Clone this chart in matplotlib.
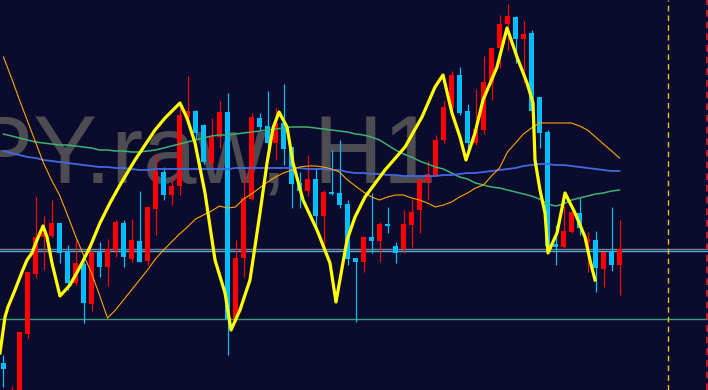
import matplotlib.pyplot as plt
import numpy as np

## Price data (H1 bars)
opens = [155.785, 155.610, 155.600, 155.930, 156.230, 156.415, 156.420, 156.485, 156.340, 156.185,
         156.280, 156.080, 156.340, 156.265, 156.345, 156.485, 156.305, 156.395, 156.295, 156.555,
         156.740, 156.625, 156.670, 157.015, 157.045, 156.975, 156.785, 156.915, 157.040, 156.005,
         156.310, 156.605, 157.010, 156.970, 156.885, 156.985, 156.865, 156.685, 156.645, 156.705,
         156.520, 156.640, 156.635, 156.580, 156.310, 156.290, 156.415, 156.395, 156.480, 156.370,
         156.355, 156.475, 156.550, 156.690, 156.725, 156.900, 157.060, 157.225, 157.045, 156.885,
         156.950, 157.185, 157.360, 157.480, 157.515, 157.405, 157.435, 157.115, 156.940, 156.380,
         156.365, 156.440, 156.535, 156.390, 156.400, 156.255, 156.345, 156.275]
highs = [155.825, 155.670, 155.940, 156.240, 156.615, 156.520, 156.600, 156.485, 156.375, 156.400,
         156.290, 156.350, 156.390, 156.405, 156.500, 156.500, 156.505, 156.645, 156.570, 156.830,
         156.765, 156.720, 157.085, 157.220, 157.050, 156.980, 157.010, 157.095, 157.135, 156.400,
         156.735, 157.035, 157.035, 157.145, 157.060, 157.180, 156.865, 156.740, 156.825, 156.755,
         156.650, 156.850, 156.900, 156.600, 156.310, 156.415, 156.635, 156.490, 156.565, 156.390,
         156.550, 156.605, 156.700, 156.795, 156.925, 157.095, 157.245, 157.265, 157.080, 157.155,
         157.320, 157.360, 157.525, 157.580, 157.520, 157.495, 157.450, 157.115, 156.950, 156.475,
         156.570, 156.575, 156.610, 156.440, 156.445, 156.340, 156.565, 156.500]
lows = [155.665, 155.575, 155.575, 155.910, 156.210, 156.250, 156.415, 156.285, 156.150, 156.175,
        155.985, 156.045, 156.215, 156.170, 156.315, 156.265, 156.290, 156.290, 156.275, 156.425,
        156.600, 156.575, 156.625, 157.000, 156.900, 156.780, 156.755, 156.860, 155.825, 155.990,
        156.215, 156.600, 156.950, 156.860, 156.800, 156.775, 156.560, 156.560, 156.620, 156.465,
        156.360, 156.625, 156.560, 156.275, 155.990, 156.240, 156.335, 156.290, 156.435, 156.285,
        156.335, 156.365, 156.435, 156.600, 156.720, 156.885, 157.050, 157.025, 156.840, 156.875,
        156.930, 157.100, 157.260, 157.350, 157.285, 157.185, 157.035, 156.860, 156.360, 156.275,
        156.360, 156.435, 156.425, 156.240, 156.140, 156.165, 156.245, 156.125]
closes = [155.755, 155.640, 155.940, 156.240, 156.415, 156.435, 156.485, 156.335, 156.185, 156.285,
          156.085, 156.340, 156.265, 156.355, 156.490, 156.315, 156.400, 156.290, 156.565, 156.745,
          156.625, 156.670, 157.025, 157.045, 156.935, 156.790, 156.915, 157.040, 156.005, 156.310,
          156.610, 157.015, 156.965, 156.885, 156.985, 156.855, 156.680, 156.645, 156.705, 156.520,
          156.640, 156.630, 156.575, 156.305, 156.290, 156.415, 156.395, 156.480, 156.470, 156.335,
          156.480, 156.540, 156.700, 156.730, 156.900, 157.065, 157.225, 157.035, 156.885, 156.955,
          157.190, 157.360, 157.480, 157.520, 157.405, 157.430, 157.045, 156.935, 156.370, 156.365,
          156.445, 156.540, 156.460, 156.405, 156.260, 156.340, 156.275, 156.355]

## Moving averages
ma_orange = [157.315, 157.21, 157.1, 156.995, 156.89, 156.785, 156.7, 156.625, 156.525, 156.42,
             156.325, 156.235, 156.125, 156.01, 156.05, 156.1, 156.15, 156.2, 156.25, 156.305,
             156.35, 156.39, 156.43, 156.465, 156.505, 156.525, 156.545, 156.57, 156.56, 156.565,
             156.605, 156.63, 156.66, 156.69, 156.715, 156.735, 156.75, 156.765, 156.77, 156.77,
             156.765, 156.755, 156.74, 156.7, 156.67, 156.64, 156.615, 156.6, 156.615, 156.625,
             156.625, 156.61, 156.6, 156.585, 156.565, 156.575, 156.59, 156.615, 156.635, 156.66,
             156.675, 156.72, 156.76, 156.84, 156.885, 156.93, 156.96, 156.985, 156.985, 156.985,
             156.985, 156.985, 156.97, 156.95, 156.915, 156.88, 156.845, 156.81]
ma_blue = [156.845, 156.835, 156.825, 156.815, 156.81, 156.8, 156.795, 156.79, 156.785, 156.78,
           156.775, 156.77, 156.765, 156.765, 156.76, 156.76, 156.755, 156.75, 156.75, 156.755,
           156.755, 156.755, 156.755, 156.755, 156.755, 156.755, 156.755, 156.755, 156.755, 156.76,
           156.76, 156.76, 156.76, 156.76, 156.76, 156.76, 156.76, 156.76, 156.755, 156.755,
           156.755, 156.75, 156.75, 156.74, 156.735, 156.735, 156.73, 156.73, 156.725, 156.725,
           156.72, 156.72, 156.72, 156.72, 156.72, 156.725, 156.725, 156.73, 156.735, 156.735,
           156.74, 156.745, 156.75, 156.755, 156.76, 156.77, 156.775, 156.78, 156.78, 156.775,
           156.775, 156.77, 156.765, 156.76, 156.755, 156.75, 156.745, 156.745]
ma_green = [156.93, 156.92, 156.91, 156.9, 156.89, 156.885, 156.88, 156.875, 156.875, 156.87,
            156.865, 156.86, 156.85, 156.85, 156.845, 156.845, 156.84, 156.84, 156.845, 156.85,
            156.86, 156.87, 156.88, 156.89, 156.9, 156.91, 156.92, 156.925, 156.925, 156.93,
            156.935, 156.94, 156.945, 156.95, 156.955, 156.96, 156.965, 156.965, 156.965, 156.96,
            156.955, 156.95, 156.945, 156.94, 156.93, 156.925, 156.915, 156.9, 156.875, 156.85,
            156.83, 156.815, 156.795, 156.78, 156.765, 156.755, 156.735, 156.715, 156.705, 156.685,
            156.675, 156.665, 156.66, 156.65, 156.64, 156.63, 156.62, 156.605, 156.58, 156.57,
            156.58, 156.6, 156.61, 156.62, 156.63, 156.635, 156.645, 156.65]

## Yellow swing line (bar index, price)
swing_x = [-0.44, 0.19, 0.56, 1.44, 2.31, 2.94, 3.56, 4.19, 4.94, 5.44, 6.06, 7.06, 8.31, 9.56,
           10.81, 12.06, 13.31, 14.56, 16.44, 18.94, 20.19, 22.06, 22.94, 23.94, 25.19, 26.44,
           27.69, 28.44, 29.56, 30.81, 32.06, 32.94, 33.69, 34.44, 35.44, 36.19, 37.44, 39.19,
           40.81, 41.56, 42.94, 43.94, 45.19, 47.69, 50.19, 52.31, 53.94, 54.94, 56.06, 57.06,
           57.81, 58.94, 59.94, 61.69, 62.94, 64.19, 65.44, 66.19, 66.44, 67.06, 67.69, 68.06,
           69.19, 70.19, 71.44, 72.69, 73.31, 73.94]
swing_y = [155.835, 156.015, 156.065, 156.15, 156.24, 156.3, 156.335, 156.4, 156.47, 156.415,
           156.285, 156.12, 156.175, 156.265, 156.365, 156.485, 156.585, 156.675, 156.8, 156.95,
           157.01, 157.085, 157.01, 156.885, 156.635, 156.3, 156.135, 155.95, 156.05, 156.2,
           156.535, 156.785, 156.96, 157.04, 156.965, 156.785, 156.6, 156.45, 156.285, 156.09,
           156.4, 156.515, 156.615, 156.75, 156.865, 157.015, 157.165, 157.225, 157.035, 156.915,
           156.8, 156.935, 157.1, 157.265, 157.46, 157.315, 157.185, 157.085, 156.8, 156.65,
           156.535, 156.335, 156.435, 156.635, 156.535, 156.415, 156.3, 156.2]

ask_price = 156.355
bid_price = 156.345
level_price = 156.005
vline_yellow = 83
vline_red = 87.95

bg = '#0b0b2e'
up_col = '#ff0000'
dn_col = '#00bfff'

fig = plt.figure(figsize=(7.08, 3.9), dpi=100)
ax = fig.add_axes([0, 0, 1, 1])
ax.set_facecolor(bg)

# watermark (symbol, timeframe), cut at the left like the terminal shows it
ax.text(0.617, 0.531, 'USDJPY.raw, H1', transform=ax.transAxes, ha='right', va='baseline',
        fontsize=69, family='Liberation Sans', color='#4c4c52', zorder=0)

# levels
ax.axhline(ask_price, color='#7f7f8a', lw=1, zorder=1)
ax.axhline(bid_price, color='#4fb0e0', lw=1, zorder=1)
ax.axhline(level_price, color='#3f9f78', lw=1, zorder=1)
ax.axvline(vline_yellow, color='#f0c020', lw=1, ls=(0, (4, 3)), zorder=1)
ax.axvline(vline_red, color='#e02020', lw=1.2, ls=(0, (4, 3)), zorder=1)

# candles
o = np.array(opens); c = np.array(closes)
h = np.array(highs); l = np.array(lows)
x = np.arange(len(o))
cols = np.where(c > o, up_col, dn_col)
ax.vlines(x, l, h, colors=cols, lw=0.9, zorder=3)
ax.bar(x, np.maximum(np.abs(c - o), 0.004), bottom=np.minimum(o, c), width=0.62,
       color=cols, linewidth=0, zorder=3)

# moving averages
ax.plot(x, ma_green, color='#3cb371', lw=1.1, zorder=4)
ax.plot(x, ma_blue, color='#4169e1', lw=1.3, zorder=4)
ax.plot(x, ma_orange, color='#ffa500', lw=0.8, zorder=4)

# swing line
ax.plot(swing_x, swing_y, color='#ffff00', lw=2.3, zorder=5)

ax.set_xlim(-0.4375, 88.0625)
ax.set_ylim(155.65, 157.6)
ax.axis('off')

fig.savefig('out.png', dpi=100, facecolor=bg)
